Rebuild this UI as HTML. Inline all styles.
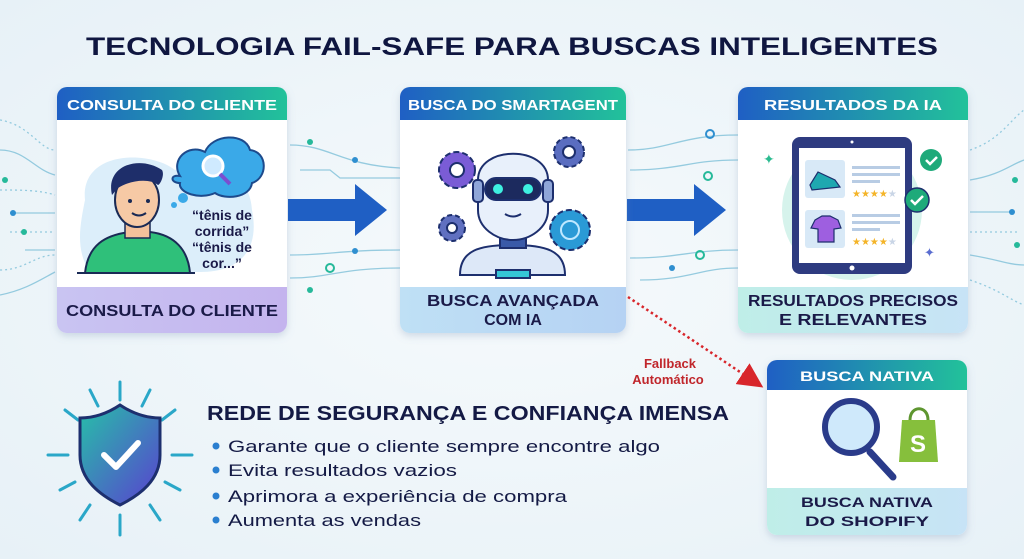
<!DOCTYPE html>
<html><head><meta charset="utf-8"><style>
html,body{margin:0;padding:0;background:#eef5f9;}
svg{display:block;font-family:"Liberation Sans",sans-serif;}
</style></head><body>
<svg width="1024" height="559" viewBox="0 0 1024 559" xmlns="http://www.w3.org/2000/svg">
<defs>
<linearGradient id="hd" x1="0" x2="1"><stop offset="0" stop-color="#1f5fc4"/><stop offset="1" stop-color="#22c29a"/></linearGradient>
<linearGradient id="f1" x1="0" x2="1"><stop offset="0" stop-color="#c9c4f2"/><stop offset="1" stop-color="#c4b4ee"/></linearGradient>
<linearGradient id="f2" x1="0" x2="1"><stop offset="0" stop-color="#bfe0f5"/><stop offset="1" stop-color="#b5d2f3"/></linearGradient>
<linearGradient id="f3" x1="0" x2="1"><stop offset="0" stop-color="#bfeee8"/><stop offset="1" stop-color="#c7e3f6"/></linearGradient>
<linearGradient id="sh" x1="0" x2="1" y1="0" y2="1"><stop offset="0" stop-color="#26c0a8"/><stop offset="1" stop-color="#5a3fd0"/></linearGradient>
<radialGradient id="bg" cx="0.5" cy="0.5" r="0.7"><stop offset="0" stop-color="#f6fafc"/><stop offset="1" stop-color="#e7f1f7"/></radialGradient>
<filter id="ds" x="-10%" y="-10%" width="120%" height="130%"><feDropShadow dx="0" dy="3" stdDeviation="4" flood-color="#7890b0" flood-opacity="0.3"/></filter>
<marker id="ra" markerWidth="10" markerHeight="10" refX="6" refY="5" orient="auto"><path d="M0,0 L10,5 L0,10 z" fill="#d8262b"/></marker>
</defs>
<rect width="1024" height="559" fill="url(#bg)"/>

<g stroke="#6fb9d4" stroke-width="1.3" fill="none" opacity="0.7">
<path d="M0,120 C30,125 40,150 55,150" stroke-dasharray="2 3"/>
<path d="M0,150 C25,150 35,170 55,175"/>
<path d="M0,190 C20,190 40,190 55,195" stroke-dasharray="2 3"/>
<path d="M10,213 L55,213"/><path d="M10,232 L55,232" stroke-dasharray="2 3"/>
<path d="M25,250 L55,250"/><path d="M0,270 C25,270 35,255 55,255" stroke-dasharray="2 3"/>
<path d="M0,295 C25,290 40,280 55,272"/>
<path d="M290,145 C330,145 340,165 400,168"/><path d="M300,170 L330,170 L340,178 L400,178"/>
<path d="M290,255 C330,255 340,250 400,250"/><path d="M290,278 C330,278 340,268 400,268"/>
<path d="M628,150 C670,150 680,135 738,135"/><path d="M630,170 C680,170 690,160 738,160"/>
<path d="M630,258 C680,258 690,250 738,250"/><path d="M640,280 C690,280 700,268 738,268"/>
<path d="M970,150 C1000,140 1010,120 1024,110" stroke-dasharray="2 3"/>
<path d="M970,180 C1000,175 1010,165 1024,160"/>
<path d="M970,212 L1010,212"/><path d="M970,232 L1020,232" stroke-dasharray="2 3"/>
<path d="M970,255 C1000,260 1010,265 1024,265"/><path d="M970,280 C1000,290 1010,300 1024,305" stroke-dasharray="2 3"/>
</g>
<g fill="#2f8fd0"><circle cx="13" cy="213" r="3"/><circle cx="24" cy="232" r="3" fill="#26b99a"/><circle cx="5" cy="180" r="3" fill="#26b99a"/><circle cx="310" cy="142" r="3" fill="#26b99a"/><circle cx="355" cy="160" r="3"/><circle cx="355" cy="251" r="3"/><circle cx="330" cy="268" r="4" fill="none" stroke="#26b99a" stroke-width="2"/><circle cx="310" cy="290" r="3" fill="#26b99a"/><circle cx="710" cy="134" r="4" fill="none" stroke="#2f8fd0" stroke-width="2"/><circle cx="708" cy="176" r="4" fill="none" stroke="#26b99a" stroke-width="2"/><circle cx="672" cy="268" r="3"/><circle cx="700" cy="255" r="4" fill="none" stroke="#26b99a" stroke-width="2"/><circle cx="1012" cy="212" r="3"/><circle cx="1017" cy="245" r="3" fill="#26b99a"/><circle cx="1015" cy="180" r="3" fill="#26b99a"/></g>

<text x="512" y="55" text-anchor="middle" font-size="25" font-weight="bold" fill="#0f1640" textLength="852" lengthAdjust="spacingAndGlyphs">TECNOLOGIA FAIL-SAFE PARA BUSCAS INTELIGENTES</text>

<g filter="url(#ds)"><rect x="57" y="87" width="230" height="246" rx="10" fill="#fff"/></g>
<path d="M67,87 H277 a10,10 0 0 1 10,10 V120 H57 V97 a10,10 0 0 1 10,-10z" fill="url(#hd)"/>
<path d="M57,287 H287 V323 a10,10 0 0 1 -10,10 H67 a10,10 0 0 1 -10,-10z" fill="url(#f1)"/>
<text x="172" y="110" text-anchor="middle" font-size="15" font-weight="bold" fill="#fff" textLength="210" lengthAdjust="spacingAndGlyphs">CONSULTA DO CLIENTE</text>
<text x="172" y="316" text-anchor="middle" font-size="16" font-weight="bold" fill="#1a1a48" textLength="212" lengthAdjust="spacingAndGlyphs">CONSULTA DO CLIENTE</text>
<path d="M85,200 C80,150 150,150 175,170 C210,160 250,170 252,210 C260,250 240,272 200,272 H90 C75,250 80,225 85,200z" fill="#dceefa"/>
<g transform="translate(0,28)">
<path d="M180,148 C170,132 188,115 205,124 C212,106 245,104 250,122 C268,124 268,150 252,155 C250,170 225,172 215,165 C200,172 178,165 180,155 C170,155 170,146 180,148z" fill="#3aa9e8" stroke="#1d4a8c" stroke-width="2"/>
<circle cx="213" cy="138" r="10" fill="#cfeaff" stroke="#fff" stroke-width="3"/><line x1="220" y1="146" x2="230" y2="156" stroke="#7a4fd0" stroke-width="4"/>
</g>
<circle cx="183" cy="198" r="5" fill="#3aa9e8"/><circle cx="174" cy="205" r="3" fill="#3aa9e8"/>
<path d="M85,273 C88,245 105,235 130,232 L150,232 C175,235 188,250 190,273z" fill="#2fc07a" stroke="#1a2a55" stroke-width="2"/>
<path d="M125,222 L125,238 L150,238 L150,222z" fill="#f3c19b" stroke="#1a2a55" stroke-width="1.5"/>
<ellipse cx="137" cy="200" rx="22" ry="27" fill="#f6c9a5" stroke="#1a2a55" stroke-width="2"/>
<path d="M112,195 C105,165 140,155 162,170 C165,175 160,185 158,185 C150,178 130,180 118,188z" fill="#1e2e6a"/>
<circle cx="130" cy="201" r="2" fill="#1a2a55"/><circle cx="148" cy="201" r="2" fill="#1a2a55"/>
<path d="M132,213 Q139,218 146,213" stroke="#1a2a55" stroke-width="2" fill="none"/>
<line x1="77" y1="273" x2="195" y2="273" stroke="#1a2a55" stroke-width="2"/>
<g font-size="14" font-weight="bold" fill="#1a1a48" text-anchor="middle"><text x="222" y="220">“tênis de</text><text x="222" y="236">corrida”</text><text x="222" y="252">“tênis de</text><text x="222" y="268">cor...”</text></g>

<path d="M288,199 H355 V184 L387,210 L355,236 V221 H288z" fill="#1f5fc4"/>
<path d="M627,199 H694 V184 L726,210 L694,236 V221 H627z" fill="#1f5fc4"/>

<g filter="url(#ds)"><rect x="400" y="87" width="226" height="246" rx="10" fill="#fff"/></g>
<path d="M410,87 H616 a10,10 0 0 1 10,10 V120 H400 V97 a10,10 0 0 1 10,-10z" fill="url(#hd)"/>
<path d="M400,287 H626 V323 a10,10 0 0 1 -10,10 H410 a10,10 0 0 1 -10,-10z" fill="url(#f2)"/>
<text x="513" y="110" text-anchor="middle" font-size="15" font-weight="bold" fill="#fff" textLength="210" lengthAdjust="spacingAndGlyphs">BUSCA DO SMARTAGENT</text>
<text x="513" y="306" text-anchor="middle" font-size="16" font-weight="bold" fill="#1a1a48" textLength="172" lengthAdjust="spacingAndGlyphs">BUSCA AVANÇADA</text>
<text x="513" y="325" text-anchor="middle" font-size="16" font-weight="bold" fill="#1a1a48">COM IA</text>
<g stroke="#1d2f6e" stroke-width="2">
<circle cx="457" cy="170" r="18" fill="#7a5cd6" stroke-dasharray="6 3"/><circle cx="457" cy="170" r="7" fill="#fff"/>
<circle cx="452" cy="228" r="13" fill="#6070c0" stroke-dasharray="5 3"/><circle cx="452" cy="228" r="5" fill="#fff"/>
<circle cx="569" cy="152" r="15" fill="#5a6dc0" stroke-dasharray="5 3"/><circle cx="569" cy="152" r="6" fill="#fff"/>
<circle cx="570" cy="230" r="20" fill="#2a9ad6" stroke-dasharray="6 3"/><circle cx="570" cy="230" r="9" fill="none" stroke="#bfe8ff"/>
<path d="M460,275 C460,250 480,245 512,245 C545,245 565,250 565,275z" fill="#dde8f8"/>
<rect x="500" y="232" width="26" height="16" fill="#3a5aa8"/>
<path d="M478,180 C478,145 548,145 548,180 L548,210 C548,228 530,240 513,240 C496,240 478,228 478,210z" fill="#e8f0fb"/>
<rect x="473" y="180" width="10" height="22" rx="4" fill="#8fa6d8"/><rect x="543" y="180" width="10" height="22" rx="4" fill="#8fa6d8"/>
<rect x="485" y="178" width="56" height="22" rx="11" fill="#1c2a5e"/>
<rect x="496" y="270" width="34" height="8" fill="#35c6d6"/>
</g>
<circle cx="498" cy="189" r="5" fill="#3ef0e0"/><circle cx="528" cy="189" r="5" fill="#3ef0e0"/>
<path d="M505,214 Q513,219 521,214" stroke="#1d2f6e" stroke-width="2" fill="none"/>

<g filter="url(#ds)"><rect x="738" y="87" width="230" height="246" rx="10" fill="#fff"/></g>
<path d="M748,87 H958 a10,10 0 0 1 10,10 V120 H738 V97 a10,10 0 0 1 10,-10z" fill="url(#hd)"/>
<path d="M738,287 H968 V323 a10,10 0 0 1 -10,10 H748 a10,10 0 0 1 -10,-10z" fill="url(#f3)"/>
<text x="853" y="110" text-anchor="middle" font-size="15" font-weight="bold" fill="#fff" textLength="178" lengthAdjust="spacingAndGlyphs">RESULTADOS DA IA</text>
<text x="853" y="306" text-anchor="middle" font-size="16" font-weight="bold" fill="#1a1a48" textLength="210" lengthAdjust="spacingAndGlyphs">RESULTADOS PRECISOS</text>
<text x="853" y="325" text-anchor="middle" font-size="16" font-weight="bold" fill="#1a1a48" textLength="148" lengthAdjust="spacingAndGlyphs">E RELEVANTES</text>
<circle cx="852" cy="210" r="70" fill="#d6f3ec"/>
<rect x="792" y="137" width="120" height="137" rx="8" fill="#2e3b80"/>
<rect x="799" y="148" width="106" height="115" fill="#fff"/>
<circle cx="852" cy="142" r="1.5" fill="#fff"/><circle cx="852" cy="268" r="2.5" fill="#fff"/>
<rect x="805" y="160" width="40" height="38" rx="3" fill="#d8e9f7"/><rect x="805" y="210" width="40" height="38" rx="3" fill="#d8e9f7"/>
<path d="M810,185 L818,172 L835,180 L840,187 L812,190z" fill="#1fa8b0" stroke="#1d2f6e" stroke-width="1.2"/>
<path d="M815,220 L822,216 L830,216 L838,220 L841,228 L834,229 L834,242 L818,242 L818,229 L811,228z" fill="#9e5fe0" stroke="#1d2f6e" stroke-width="1.2"/>
<g fill="#b8cce4"><rect x="852" y="166" width="48" height="3"/><rect x="852" y="173" width="48" height="3"/><rect x="852" y="180" width="28" height="3"/><rect x="852" y="214" width="48" height="3"/><rect x="852" y="221" width="48" height="3"/><rect x="852" y="228" width="28" height="3"/></g>
<text x="852" y="197" font-size="10" fill="#f4b428">★★★★<tspan fill="#c9d5e6">★</tspan></text>
<text x="852" y="245" font-size="10" fill="#f4b428">★★★★<tspan fill="#c9d5e6">★</tspan></text>
<circle cx="931" cy="160" r="11" fill="#1faa7a"/><path d="M926,160 l4,4 l7,-7" stroke="#fff" stroke-width="2.5" fill="none"/>
<circle cx="917" cy="200" r="12" fill="#1faa7a" stroke="#1d2f6e" stroke-width="1.5"/><path d="M911,200 l4,4 l8,-8" stroke="#fff" stroke-width="2.5" fill="none"/>
<text x="763" y="164" font-size="14" fill="#2bbb90">✦</text><text x="924" y="257" font-size="13" fill="#5a6dd0">✦</text>

<line x1="628" y1="297" x2="755" y2="382" stroke="#d8262b" stroke-width="2.5" stroke-dasharray="2.5 3" marker-end="url(#ra)"/>
<text x="670" y="368" text-anchor="middle" font-size="13" font-weight="bold" fill="#c0262b">Fallback</text>
<text x="668" y="384" text-anchor="middle" font-size="13" font-weight="bold" fill="#c0262b">Automático</text>

<g filter="url(#ds)"><rect x="767" y="360" width="200" height="175" rx="10" fill="#fff"/></g>
<path d="M777,360 H957 a10,10 0 0 1 10,10 V390 H767 V370 a10,10 0 0 1 10,-10z" fill="url(#hd)"/>
<path d="M767,488 H967 V525 a10,10 0 0 1 -10,10 H777 a10,10 0 0 1 -10,-10z" fill="url(#f3)"/>
<text x="867" y="381" text-anchor="middle" font-size="14" font-weight="bold" fill="#fff" textLength="134" lengthAdjust="spacingAndGlyphs">BUSCA NATIVA</text>
<text x="867" y="507" text-anchor="middle" font-size="14" font-weight="bold" fill="#1a1a48" textLength="132" lengthAdjust="spacingAndGlyphs">BUSCA NATIVA</text>
<text x="867" y="526" text-anchor="middle" font-size="14" font-weight="bold" fill="#1a1a48" textLength="124" lengthAdjust="spacingAndGlyphs">DO SHOPIFY</text>
<line x1="870" y1="452" x2="893" y2="477" stroke="#2a3b8a" stroke-width="7" stroke-linecap="round"/>
<circle cx="851" cy="427" r="26" fill="#cfe9fb" stroke="#2a3b8a" stroke-width="6"/>
<path d="M902,420 L935,420 L938,462 L899,462z" fill="#86bf3c"/><path d="M910,420 C910,405 928,405 928,420" stroke="#5e9630" stroke-width="3" fill="none"/>
<text x="918" y="452" text-anchor="middle" font-size="24" font-weight="bold" fill="#fff">S</text>

<g stroke="#2aa7c8" stroke-width="3" stroke-linecap="round">
<line x1="120" y1="382" x2="120" y2="400"/><line x1="90" y1="390" x2="98" y2="406"/><line x1="150" y1="390" x2="142" y2="406"/>
<line x1="65" y1="410" x2="78" y2="420"/><line x1="175" y1="410" x2="162" y2="420"/>
<line x1="48" y1="455" x2="68" y2="455"/><line x1="172" y1="455" x2="192" y2="455"/>
<line x1="60" y1="490" x2="75" y2="482"/><line x1="180" y1="490" x2="165" y2="482"/>
<line x1="80" y1="520" x2="90" y2="505"/><line x1="160" y1="520" x2="150" y2="505"/>
<line x1="120" y1="515" x2="120" y2="535"/>
</g>
<path d="M120,405 C105,415 92,418 80,418 L80,455 C80,480 100,495 120,505 C140,495 160,480 160,455 L160,418 C148,418 135,415 120,405z" fill="url(#sh)" stroke="#1d2f6e" stroke-width="3"/>
<path d="M104,455 L116,467 L138,443" stroke="#fff" stroke-width="6" fill="none" stroke-linecap="round" stroke-linejoin="round"/>

<text x="207" y="420" font-size="20" font-weight="bold" fill="#141a45" textLength="522" lengthAdjust="spacingAndGlyphs">REDE DE SEGURANÇA E CONFIANÇA IMENSA</text>
<g font-size="17" fill="#141a45">
<circle cx="216" cy="446" r="3.5" fill="#2a7fd0"/><text x="228" y="452" textLength="432" lengthAdjust="spacingAndGlyphs">Garante que o cliente sempre encontre algo</text>
<circle cx="216" cy="470" r="3.5" fill="#2a7fd0"/><text x="228" y="476" textLength="229" lengthAdjust="spacingAndGlyphs">Evita resultados vazios</text>
<circle cx="216" cy="496" r="3.5" fill="#2a7fd0"/><text x="228" y="502" textLength="339" lengthAdjust="spacingAndGlyphs">Aprimora a experiência de compra</text>
<circle cx="216" cy="520" r="3.5" fill="#2a7fd0"/><text x="228" y="526" textLength="193" lengthAdjust="spacingAndGlyphs">Aumenta as vendas</text>
</g>
</svg>
</body></html>
